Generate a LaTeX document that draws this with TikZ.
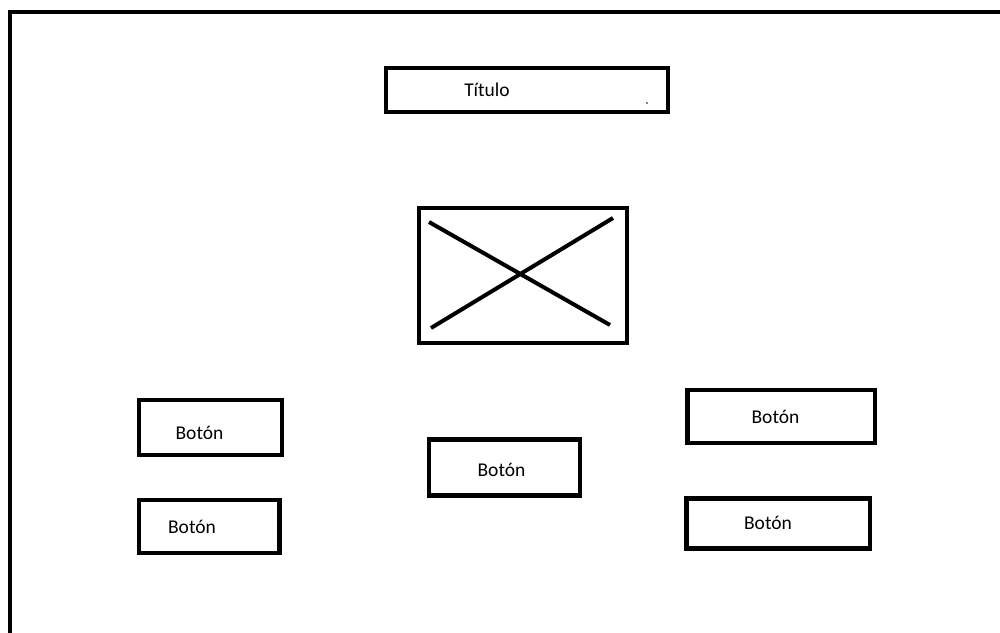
\documentclass[tikz,border=0pt]{standalone}
\usepackage{fontspec}
\setmainfont{Carlito}
\begin{document}
\begin{tikzpicture}[x=1pt,y=-1pt,
  frame/.style={line width=4pt},
  box/.style={draw, line width=4.5pt, inner sep=0pt, outer sep=0pt},
  cross/.style={line width=4pt},
  lbl/.style={inner sep=0pt, font=\fontsize{19.5}{23}\selectfont}]
\useasboundingbox (0,0) rectangle (1000,632);
% outer frame
\coordinate (fbl) at (10,634);
\coordinate (ftl) at (10,12);
\coordinate (ftr) at (1002,12);
\draw[frame] (fbl) -- (ftl) -- (ftr);
% title
\node[box, minimum width=282pt, minimum height=44pt] (title) at (527,90) {};
\node[lbl] (titletext) at (487,90) {Título};
\fill (647,103) circle (0.8pt);
% image placeholder
\node[box, minimum width=208pt, minimum height=135pt] (img) at (523,275.5) {};
\coordinate (c1) at (429,222);
\coordinate (c2) at (610,325);
\coordinate (c3) at (613,218);
\coordinate (c4) at (431,328);
\draw[cross] (c1) -- (c2);
\draw[cross] (c3) -- (c4);
% buttons
\node[box, minimum width=143pt, minimum height=55pt] (b1) at (210.5,427.5) {};
\node[lbl] (b1t) at (199.5,433) {Botón};
\node[box, minimum width=140.5pt, minimum height=53pt] (b2) at (209.25,526.5) {};
\node[lbl] (b2t) at (192,527) {Botón};
\node[box, minimum width=151pt, minimum height=56pt] (bc) at (504.5,467.5) {};
\node[lbl] (bct) at (501.5,470) {Botón};
\node[box, minimum width=187.5pt, minimum height=53pt] (ba) at (781.25,416.5) {};
\node[lbl] (bat) at (775.5,417) {Botón};
\node[box, minimum width=183.5pt, minimum height=50pt] (bb) at (778.25,523.5) {};
\node[lbl] (bbt) at (768,523) {Botón};
\end{tikzpicture}
\end{document}
